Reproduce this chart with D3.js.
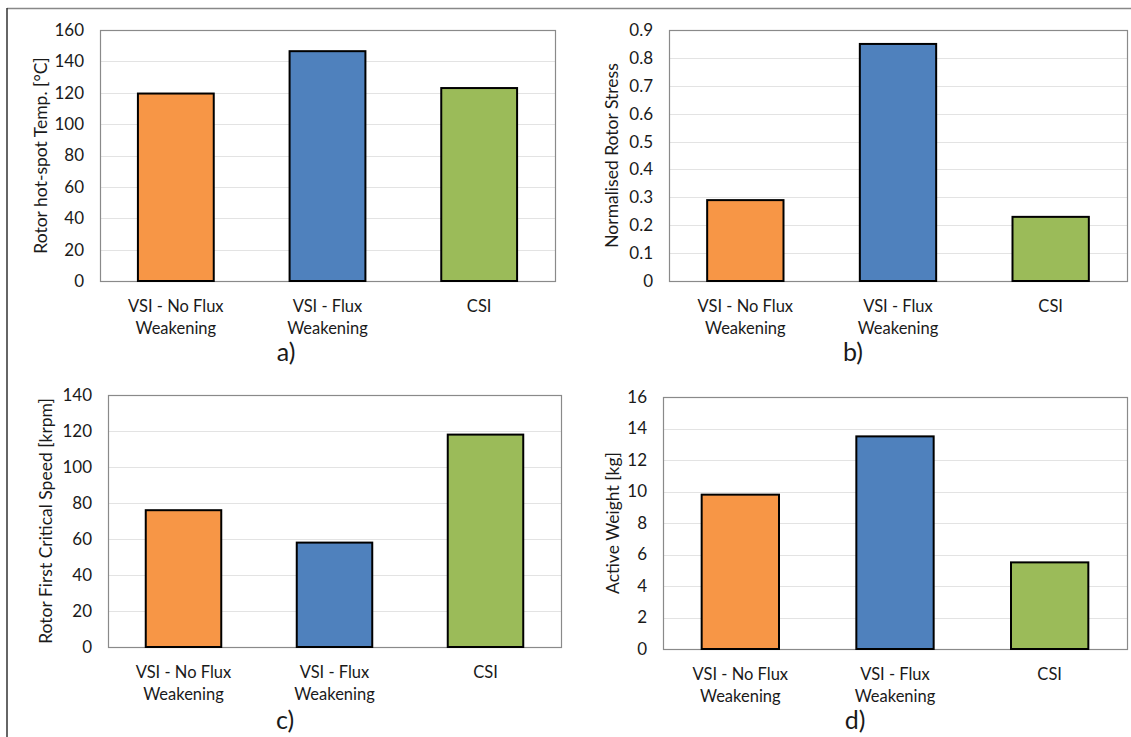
<!DOCTYPE html>
<html>
<head>
<meta charset="utf-8">
<script src="https://cdn.jsdelivr.net/npm/d3@7"></script>
<style>
  body { margin: 0; background: #fff; }
  text { font-family: Lato, "Open Sans", sans-serif; fill: #1a1a1a; }
</style>
</head>
<body>
<div id="chart"></div>
<script>
// Categories shared by all four panels
const categories = [['VSI - No Flux', 'Weakening'], ['VSI - Flux', 'Weakening'], ['CSI']];
const barColors = ['#F79646', '#4F81BD', '#9BBB59'];

// Series values
const tempValues = [119.5, 146.5, 123];
const stressValues = [0.29, 0.85, 0.23];
const speedValues = [76, 58, 118];
const weightValues = [9.8, 13.5, 5.5];

// Tick values
const tempTicks = [0, 20, 40, 60, 80, 100, 120, 140, 160];
const stressTicks = [0, 0.1, 0.2, 0.3, 0.4, 0.5, 0.6, 0.7, 0.8, 0.9];
const speedTicks = [0, 20, 40, 60, 80, 100, 120, 140];
const weightTicks = [0, 2, 4, 6, 8, 10, 12, 14, 16];

const width = 1131;
const height = 737;

const svg = d3.select('#chart')
  .append('svg')
  .attr('width', width)
  .attr('height', height);

// Outer frame lines
svg.append('line')
  .attr('x1', 7).attr('x2', width).attr('y1', 8.5).attr('y2', 8.5)
  .attr('stroke', '#888').attr('stroke-width', 1.5);
svg.append('line')
  .attr('x1', 7).attr('x2', 7).attr('y1', 8).attr('y2', height)
  .attr('stroke', '#333').attr('stroke-width', 1.5);

function drawPanel(p) {
  const x = d3.scaleBand()
    .domain(d3.range(p.values.length))
    .range([p.left, p.right])
    .paddingInner(0.5)
    .paddingOuter(0.25);

  const y = d3.scaleLinear()
    .domain([0, d3.max(p.ticks)])
    .range([p.bottom, p.top]);

  // Gridlines
  svg.append('g')
    .selectAll('line')
    .data(p.ticks.slice(1, -1))
    .enter()
    .append('line')
    .attr('x1', p.left).attr('x2', p.right)
    .attr('y1', d => Math.round(y(d)) + 0.5)
    .attr('y2', d => Math.round(y(d)) + 0.5)
    .attr('stroke', '#e3e3e3')
    .attr('stroke-width', 1);

  // Plot area border
  svg.append('rect')
    .attr('x', p.left + 0.5)
    .attr('y', p.top + 0.5)
    .attr('width', p.right - p.left)
    .attr('height', p.bottom - p.top)
    .attr('fill', 'none')
    .attr('stroke', '#8a8a8a')
    .attr('stroke-width', 1.2);

  // Y axis labels
  const yAxis = d3.axisLeft(y)
    .tickValues(p.ticks)
    .tickSize(0)
    .tickPadding(16)
    .tickFormat(d3.format('~g'));
  const ya = svg.append('g')
    .attr('transform', `translate(${p.left},0)`)
    .call(yAxis);
  ya.select('.domain').remove();
  ya.selectAll('text')
    .attr('font-size', 17)
    .attr('fill', '#1a1a1a')
    .style('font-family', 'Lato, sans-serif');

  // Bars
  svg.append('g')
    .selectAll('rect')
    .data(p.values)
    .enter()
    .append('rect')
    .attr('x', (d, i) => x(i))
    .attr('y', d => y(d))
    .attr('width', x.bandwidth())
    .attr('height', d => p.bottom - y(d))
    .attr('fill', (d, i) => barColors[i])
    .attr('stroke', '#000')
    .attr('stroke-width', 2);

  // Category labels
  const cat = svg.append('g')
    .selectAll('text')
    .data(categories)
    .enter()
    .append('text')
    .attr('text-anchor', 'middle')
    .attr('font-size', 16.5);
  cat.selectAll('tspan')
    .data((d, i) => d.map(t => ({ t, i })))
    .enter()
    .append('tspan')
    .attr('x', d => x(d.i) + x.bandwidth() / 2)
    .attr('y', (d, j) => p.bottom + 31 + j * 22)
    .text(d => d.t);

  // Y axis title
  svg.append('text')
    .attr('transform', `translate(${p.titleX},${(p.top + p.bottom) / 2}) rotate(-90)`)
    .attr('text-anchor', 'middle')
    .attr('dy', '0.35em')
    .attr('font-size', 17.5)
    .text(p.title);

  // Panel letter
  svg.append('text')
    .attr('x', p.letterX)
    .attr('y', p.letterY)
    .attr('text-anchor', 'middle')
    .attr('font-size', 25)
    .text(p.letter);
}

drawPanel({ values: tempValues, ticks: tempTicks, title: 'Rotor hot-spot Temp. [°C]',
  left: 100, right: 555, top: 30, bottom: 281, titleX: 41, letter: 'a)', letterX: 286, letterY: 361 });
drawPanel({ values: stressValues, ticks: stressTicks, title: 'Normalised Rotor Stress',
  left: 669, right: 1127, top: 30, bottom: 281, titleX: 612, letter: 'b)', letterX: 853, letterY: 361 });
drawPanel({ values: speedValues, ticks: speedTicks, title: 'Rotor First Critical Speed [krpm]',
  left: 108, right: 561, top: 395, bottom: 647, titleX: 46, letter: 'c)', letterX: 285, letterY: 729 });
drawPanel({ values: weightValues, ticks: weightTicks, title: 'Active Weight [kg]',
  left: 663, right: 1127, top: 397, bottom: 649, titleX: 613, letter: 'd)', letterX: 855, letterY: 729 });
</script>
</body>
</html>
